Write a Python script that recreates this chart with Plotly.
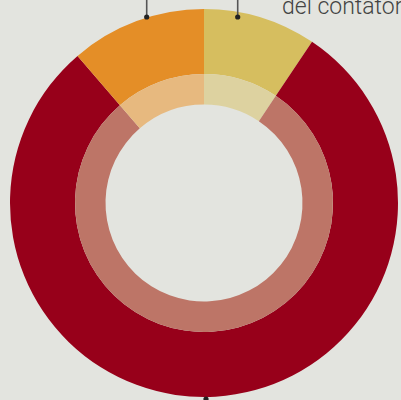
import plotly.graph_objects as go

W, H = 401, 400
labels = ["Giallo", "Rosso", "Arancio"]
values = [9.4, 79.3, 11.3]
outer_colors = ["#d6be5f", "#97001a", "#e48e27"]
inner_colors = ["#ddd2a0", "#bd7567", "#e7b97f"]
bg = "#e3e4df"

cx, cy = 204, 203  # pixel center (from top)
R_out, R_mid, R_in = 194, 129, 98.5

def dom(r):
    return dict(x=[(cx - r) / W, (cx + r) / W],
                y=[(H - cy - r) / H, (H - cy + r) / H])

fig = go.Figure()
fig.add_trace(go.Pie(labels=labels, values=values, sort=False, direction="clockwise",
                     rotation=0, hole=R_mid / R_out, domain=dom(R_out),
                     marker=dict(colors=outer_colors, line=dict(width=0)),
                     textinfo="none", hoverinfo="label+value", showlegend=False))
fig.add_trace(go.Pie(labels=labels, values=values, sort=False, direction="clockwise",
                     rotation=0, hole=R_in / R_mid, domain=dom(R_mid),
                     marker=dict(colors=inner_colors, line=dict(width=0)),
                     textinfo="none", hoverinfo="label+value", showlegend=False))

def px(x):
    return x / W

def py(y):
    return 1 - y / H

shapes = []
for x in [146.7, 237.7]:
    shapes.append(dict(type="line", xref="paper", yref="paper",
                       x0=px(x), x1=px(x), y0=py(17), y1=py(-5),
                       line=dict(color="#555555", width=1.6)))
    shapes.append(dict(type="circle", xref="paper", yref="paper",
                       x0=px(x - 2.6), x1=px(x + 2.6), y0=py(17 - 2.6), y1=py(17 + 2.6),
                       fillcolor="#222222", line=dict(width=0)))
shapes.append(dict(type="circle", xref="paper", yref="paper",
                   x0=px(206 - 2.6), x1=px(206 + 2.6), y0=py(399 - 2.6), y1=py(399 + 2.6),
                   fillcolor="#222222", line=dict(width=0)))

fig.update_layout(
    width=W, height=H, margin=dict(l=0, r=0, t=0, b=0),
    paper_bgcolor=bg, plot_bgcolor=bg,
    shapes=shapes,
    annotations=[dict(text="del contatore", xref="paper", yref="paper",
                      x=px(280), y=py(7), xanchor="left", yanchor="middle",
                      showarrow=False,
                      font=dict(family="Roboto", size=23, color="#444444", weight=300))],
)
fig.write_html("out.html", config={"displayModeBar": False},
               post_script="document.body.style.margin='0';document.body.style.overflow='hidden';"
                           "document.body.style.backgroundColor='#e3e4df';")
